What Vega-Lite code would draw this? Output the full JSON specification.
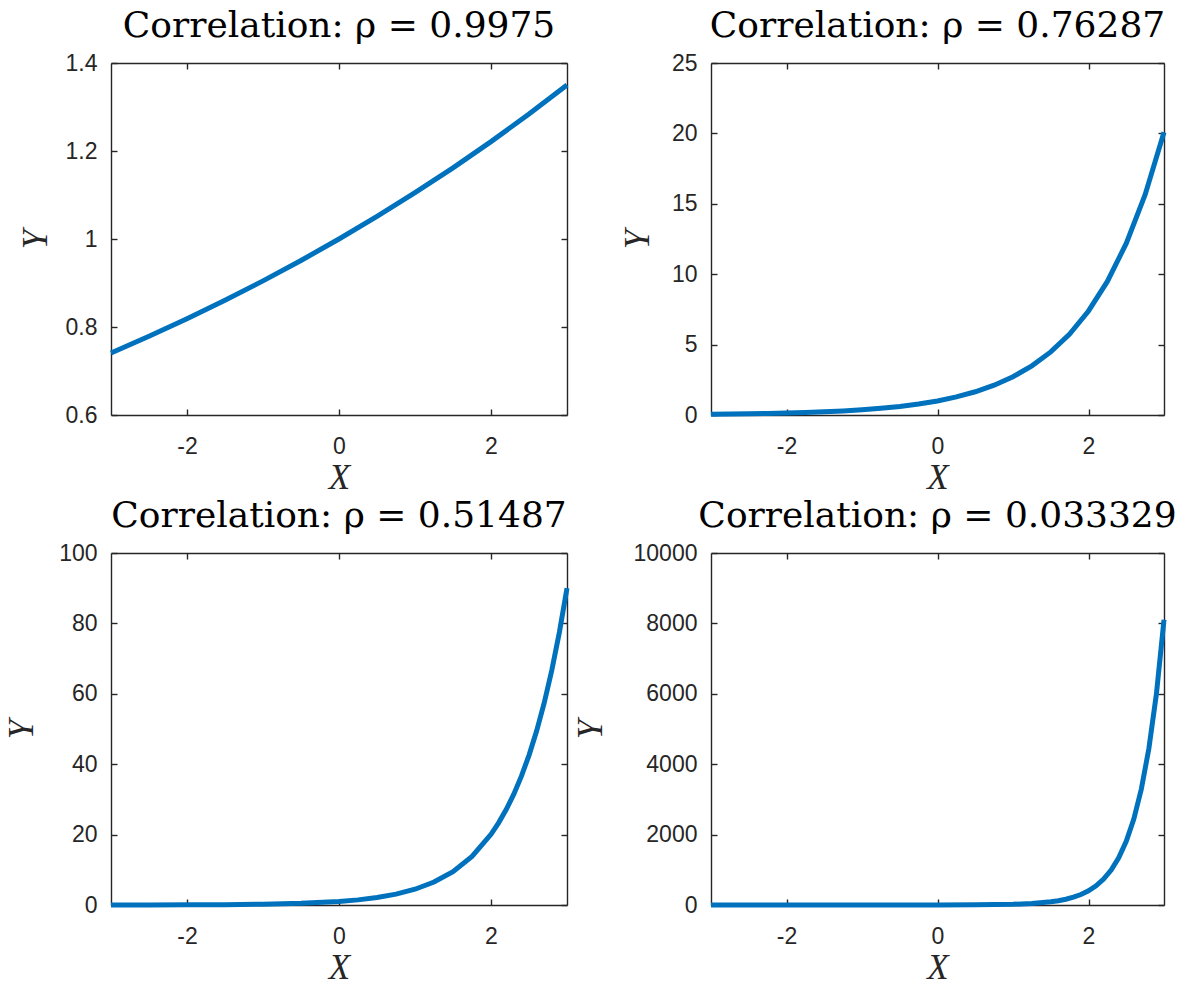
{
  "$schema": "https://vega.github.io/schema/vega-lite/v6.json",
  "padding": {"left": 4, "top": 8, "right": 10, "bottom": 10},
  "background": "white",
  "data": {"values": [
    {"p":1,"x":-3,"y":0.7408},{"p":1,"x":-2.5,"y":0.7788},{"p":1,"x":-2,"y":0.8187},{"p":1,"x":-1.5,"y":0.8607},{"p":1,"x":-1,"y":0.9048},{"p":1,"x":-0.5,"y":0.9512},{"p":1,"x":0,"y":1},{"p":1,"x":0.5,"y":1.0513},{"p":1,"x":1,"y":1.1052},{"p":1,"x":1.5,"y":1.1618},{"p":1,"x":2,"y":1.2214},{"p":1,"x":2.5,"y":1.284},{"p":1,"x":3,"y":1.3499},
    {"p":2,"x":-3,"y":0.0498},{"p":2,"x":-2.75,"y":0.0639},{"p":2,"x":-2.5,"y":0.0821},{"p":2,"x":-2.25,"y":0.1054},{"p":2,"x":-2,"y":0.1353},{"p":2,"x":-1.75,"y":0.1738},{"p":2,"x":-1.5,"y":0.2231},{"p":2,"x":-1.25,"y":0.2865},{"p":2,"x":-1,"y":0.3679},{"p":2,"x":-0.75,"y":0.4724},{"p":2,"x":-0.5,"y":0.6065},{"p":2,"x":-0.25,"y":0.7788},{"p":2,"x":0,"y":1},{"p":2,"x":0.25,"y":1.284},{"p":2,"x":0.5,"y":1.6487},{"p":2,"x":0.75,"y":2.117},{"p":2,"x":1,"y":2.7183},{"p":2,"x":1.25,"y":3.4903},{"p":2,"x":1.5,"y":4.4817},{"p":2,"x":1.75,"y":5.7546},{"p":2,"x":2,"y":7.3891},{"p":2,"x":2.25,"y":9.4877},{"p":2,"x":2.5,"y":12.1825},{"p":2,"x":2.75,"y":15.6426},{"p":2,"x":3,"y":20.0855},
    {"p":3,"x":-3,"y":0.0111},{"p":3,"x":-2.5,"y":0.0235},{"p":3,"x":-2,"y":0.0498},{"p":3,"x":-1.5,"y":0.1054},{"p":3,"x":-1,"y":0.2231},{"p":3,"x":-0.5,"y":0.4724},{"p":3,"x":0,"y":1},{"p":3,"x":0.25,"y":1.455},{"p":3,"x":0.5,"y":2.117},{"p":3,"x":0.75,"y":3.0802},{"p":3,"x":1,"y":4.4817},{"p":3,"x":1.25,"y":6.5208},{"p":3,"x":1.5,"y":9.4877},{"p":3,"x":1.75,"y":13.8046},{"p":3,"x":2,"y":20.0855},{"p":3,"x":2.1,"y":23.3361},{"p":3,"x":2.2,"y":27.1126},{"p":3,"x":2.3,"y":31.5004},{"p":3,"x":2.4,"y":36.5982},{"p":3,"x":2.5,"y":42.5211},{"p":3,"x":2.6,"y":49.4024},{"p":3,"x":2.7,"y":57.3975},{"p":3,"x":2.8,"y":66.6863},{"p":3,"x":2.9,"y":77.4785},{"p":3,"x":3,"y":90.0171},
    {"p":4,"x":-3,"y":0.0001},{"p":4,"x":-2,"y":0.0025},{"p":4,"x":-1,"y":0.0498},{"p":4,"x":-0.5,"y":0.2231},{"p":4,"x":0,"y":1},{"p":4,"x":0.5,"y":4.4817},{"p":4,"x":1,"y":20.0855},{"p":4,"x":1.25,"y":42.52},{"p":4,"x":1.5,"y":90.017},{"p":4,"x":1.6,"y":121.51},{"p":4,"x":1.7,"y":164.02},{"p":4,"x":1.8,"y":221.41},{"p":4,"x":1.9,"y":298.87},{"p":4,"x":2,"y":403.43},{"p":4,"x":2.1,"y":544.57},{"p":4,"x":2.2,"y":735.1},{"p":4,"x":2.3,"y":992.27},{"p":4,"x":2.4,"y":1339.43},{"p":4,"x":2.5,"y":1808.04},{"p":4,"x":2.6,"y":2440.6},{"p":4,"x":2.7,"y":3294.47},{"p":4,"x":2.8,"y":4447.07},{"p":4,"x":2.9,"y":6002.91},{"p":4,"x":3,"y":8103.08}
  ]},
  "columns": 2,
  "spacing": {"row": 138, "column": 144},
  "bounds": "flush",
  "concat": [
    {
      "width": 456, "height": 352,
      "title": "Correlation: ρ = 0.9975",
      "transform": [{"filter": "datum.p == 1"}],
      "layer": [
        {"mark": {"type": "line", "color": "#0072BD", "strokeWidth": 5},
         "encoding": {
           "x": {"field": "x", "type": "quantitative", "scale": {"domain": [-3, 3], "nice": false}, "axis": {"values": [-2, 0, 2], "title": "X"}},
           "y": {"field": "y", "type": "quantitative", "scale": {"domain": [0.6, 1.4], "nice": false, "zero": false}, "axis": {"values": [0.6, 0.8, 1, 1.2, 1.4], "format": "~g", "title": "Y", "titlePadding": 12}}}},
        {"mark": {"type": "line", "strokeOpacity": 0},
         "encoding": {
           "x": {"field": "x", "type": "quantitative", "axis": {"orient": "top", "values": [-2, 0, 2], "labels": false, "title": null}},
           "y": {"field": "y", "type": "quantitative", "axis": {"orient": "right", "values": [0.6, 0.8, 1, 1.2, 1.4], "labels": false, "title": null}}}}
      ],
      "resolve": {"axis": {"x": "independent", "y": "independent"}}
    },
    {
      "width": 453, "height": 352,
      "title": "Correlation: ρ = 0.76287",
      "transform": [{"filter": "datum.p == 2"}],
      "layer": [
        {"mark": {"type": "line", "color": "#0072BD", "strokeWidth": 5},
         "encoding": {
           "x": {"field": "x", "type": "quantitative", "scale": {"domain": [-3, 3], "nice": false}, "axis": {"values": [-2, 0, 2], "title": "X"}},
           "y": {"field": "y", "type": "quantitative", "scale": {"domain": [0, 25], "nice": false}, "axis": {"values": [0, 5, 10, 15, 20, 25], "format": "d", "title": "Y", "titlePadding": 16}}}},
        {"mark": {"type": "line", "strokeOpacity": 0},
         "encoding": {
           "x": {"field": "x", "type": "quantitative", "axis": {"orient": "top", "values": [-2, 0, 2], "labels": false, "title": null}},
           "y": {"field": "y", "type": "quantitative", "axis": {"orient": "right", "values": [0, 5, 10, 15, 20, 25], "labels": false, "title": null}}}}
      ],
      "resolve": {"axis": {"x": "independent", "y": "independent"}}
    },
    {
      "width": 456, "height": 352,
      "title": "Correlation: ρ = 0.51487",
      "transform": [{"filter": "datum.p == 3"}],
      "layer": [
        {"mark": {"type": "line", "color": "#0072BD", "strokeWidth": 5},
         "encoding": {
           "x": {"field": "x", "type": "quantitative", "scale": {"domain": [-3, 3], "nice": false}, "axis": {"values": [-2, 0, 2], "title": "X"}},
           "y": {"field": "y", "type": "quantitative", "scale": {"domain": [0, 100], "nice": false}, "axis": {"values": [0, 20, 40, 60, 80, 100], "format": "d", "title": "Y", "titlePadding": 19}}}},
        {"mark": {"type": "line", "strokeOpacity": 0},
         "encoding": {
           "x": {"field": "x", "type": "quantitative", "axis": {"orient": "top", "values": [-2, 0, 2], "labels": false, "title": null}},
           "y": {"field": "y", "type": "quantitative", "axis": {"orient": "right", "values": [0, 20, 40, 60, 80, 100], "labels": false, "title": null}}}}
      ],
      "resolve": {"axis": {"x": "independent", "y": "independent"}}
    },
    {
      "width": 453, "height": 352,
      "title": "Correlation: ρ = 0.033329",
      "transform": [{"filter": "datum.p == 4"}],
      "layer": [
        {"mark": {"type": "line", "color": "#0072BD", "strokeWidth": 5},
         "encoding": {
           "x": {"field": "x", "type": "quantitative", "scale": {"domain": [-3, 3], "nice": false}, "axis": {"values": [-2, 0, 2], "title": "X"}},
           "y": {"field": "y", "type": "quantitative", "scale": {"domain": [0, 10000], "nice": false}, "axis": {"values": [0, 2000, 4000, 6000, 8000, 10000], "format": "d", "title": "Y", "titlePadding": 25}}}},
        {"mark": {"type": "line", "strokeOpacity": 0},
         "encoding": {
           "x": {"field": "x", "type": "quantitative", "axis": {"orient": "top", "values": [-2, 0, 2], "labels": false, "title": null}},
           "y": {"field": "y", "type": "quantitative", "axis": {"orient": "right", "values": [0, 2000, 4000, 6000, 8000, 10000], "labels": false, "title": null}}}}
      ],
      "resolve": {"axis": {"x": "independent", "y": "independent"}}
    }
  ],
  "config": {
    "view": {"stroke": null},
    "axis": {
      "grid": false,
      "domainColor": "#262626", "domainWidth": 1.4,
      "tickColor": "#262626", "tickWidth": 1.4, "tickSize": -6,
      "labelFont": "Liberation Sans", "labelFontSize": 23, "labelColor": "#262626",
      "labelExpr": "replace(datum.label, '−', '-')",
      "titleFont": "Liberation Serif", "titleFontStyle": "italic", "titleFontWeight": "normal", "titleFontSize": 35, "titleColor": "#262626"
    },
    "axisX": {"labelPadding": 26, "titlePadding": 2},
    "axisY": {"labelPadding": 20},
    "title": {"font": "DejaVu Serif", "fontSize": 36, "fontWeight": "normal", "color": "#000000", "anchor": "middle", "baseline": "alphabetic", "offset": 7}
  }
}
